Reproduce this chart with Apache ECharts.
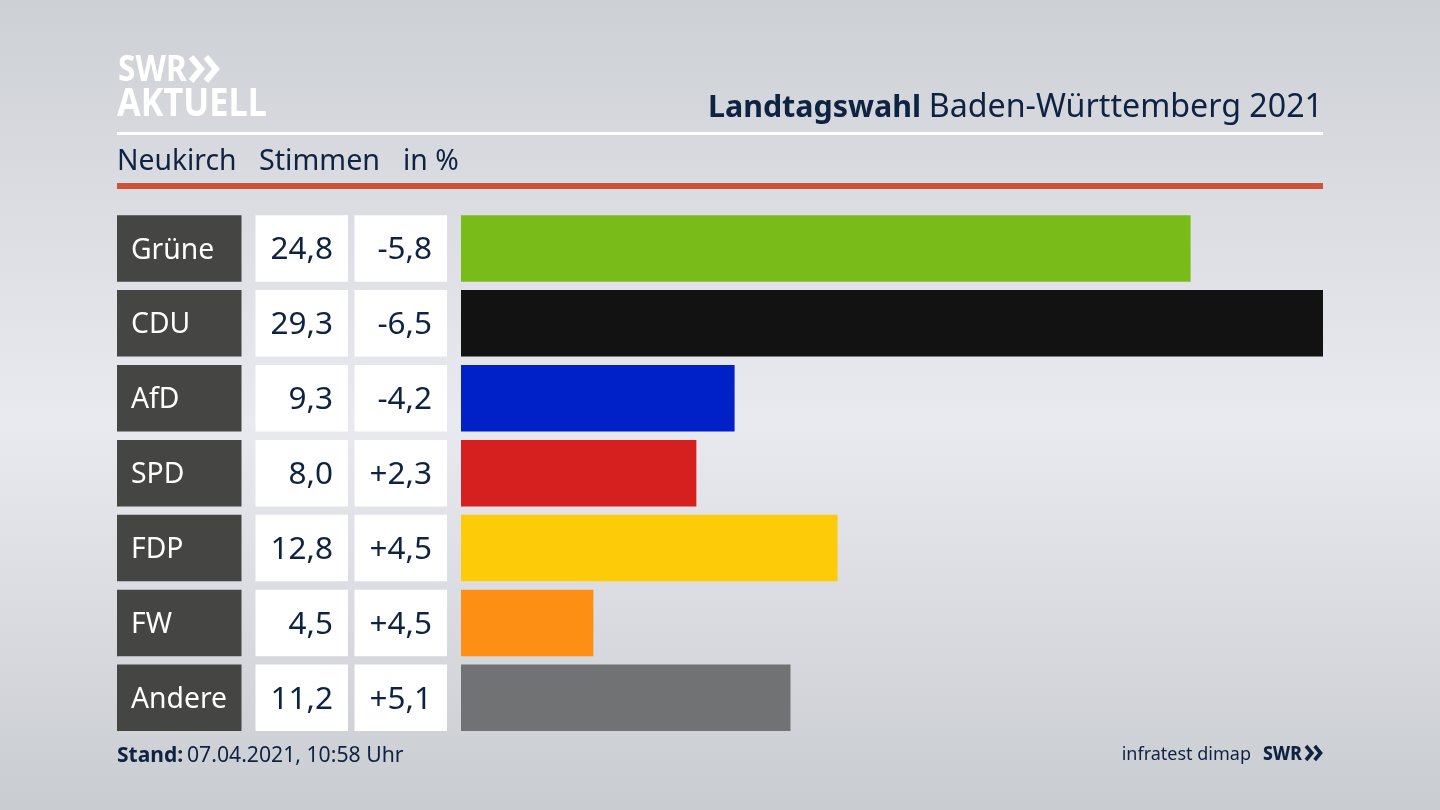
<!DOCTYPE html>
<html><head><meta charset="utf-8">
<style>html,body{margin:0;padding:0;background:#d8dade}#c{width:1440px;height:810px}</style>
<script src="https://cdn.jsdelivr.net/npm/echarts@6/dist/echarts.min.js"></script>
</head><body><div id="c"></div>
<script>
const parties = ['Grüne','CDU','AfD','SPD','FDP','FW','Andere'];
const shares = [24.8,29.3,9.3,8.0,12.8,4.5,11.2];
const changes = ['-5,8','-6,5','-4,2','+2,3','+4,5','+4,5','+5,1'];
const colors = ['#79bc1a','#121212','#0021c8','#d6201f','#fecb08','#fd9014','#717273'];

const FONT = '"Noto Sans"';
const INK = '#0e2342';
const gridTop = 211, gridH = 524.3, barW = 66.5;

const chart = echarts.init(document.getElementById('c'), null, {renderer:'canvas', width:1440, height:810});
const grids = [
  {left:117, width:124.5},
  {left:255.5, width:92.5},
  {left:354.5, width:92.5},
  {left:461, width:862}
].map(g => ({...g, top:gridTop, height:gridH, containLabel:false}));

const xAxes = grids.map((g,i) => ({gridIndex:i, type:'value', min:0, max:i===3?29.3:1, show:false}));
const yAxes = grids.map((g,i) => ({gridIndex:i, type:'category', inverse:true, data:parties, show:false}));

const commaFmt = v => v.toFixed(1).replace('.',',');
function cell(i, bg, fmt, pos, color, pad){
  return {type:'bar', xAxisIndex:i, yAxisIndex:i, barWidth:barW, silent:true, animation:false,
    data:parties.map(()=>1), itemStyle:{color:bg},
    label:{show:true, position:pos, distance:0, padding:pad, offset:[0,2], formatter:p=>fmt(p.dataIndex), color,
      fontFamily:FONT, fontSize:pos==='insideLeft'?28.3:31.5}};
}
const series = [
  cell(0,'#454543',d=>parties[d],'insideLeft','#ffffff',[0,0,0,14]),
  cell(1,'#ffffff',d=>commaFmt(shares[d]),'insideRight',INK,[0,15,0,0]),
  cell(2,'#ffffff',d=>changes[d],'insideRight',INK,[0,15,0,0]),
  {type:'bar', xAxisIndex:3, yAxisIndex:3, barWidth:barW, silent:true, animation:false,
   data:shares.map((v,i)=>({value:v, itemStyle:{color:colors[i]}}))}
];

const chev = (x,y,s,w,c)=>[0,1].map(k=>({type:'polyline', silent:true,
  shape:{points:[[x+k*s*0.62,y],[x+k*s*0.62+s*0.42,y+s*0.5],[x+k*s*0.62,y+s]]},
  style:{stroke:c, lineWidth:w, fill:null}}));
const txt = (x,y,text,size,weight,fill,align,sx)=>({type:'text', silent:true, x, y, scaleX:sx||1,
  style:{text, font:`${weight} ${size}px ${FONT}`, fill, align:align||'left', verticalAlign:'middle'}});

const graphic = [
  {type:'rect', silent:true, shape:{x:117,y:132,width:1206,height:3}, style:{fill:'#ffffff'}},
  {type:'rect', silent:true, shape:{x:117,y:183,width:1206,height:6}, style:{fill:'#cd5238'}},
  txt(118,71,'SWR',36,700,'#ffffff','left',0.88),
  ...chev(191,57,24,6,'#ffffff'),
  txt(117,105,'AKTUELL',39,700,'#ffffff','left',0.88),
  txt(117,162,'Neukirch',28.3,400,INK),
  txt(259,162,'Stimmen',28.7,400,INK),
  txt(403,162,'in %',28.3,400,INK),
  txt(921,108,'Landtagswahl',30.4,700,INK,'right'),
  txt(1323,108,'Baden-Württemberg 2021',32.2,400,INK,'right'),
  txt(117,756,'Stand:',21,700,INK),
  txt(187,756,'07.04.2021, 10:58 Uhr',21.2,400,INK),
  txt(1251,755,'infratest dimap',18,400,INK,'right'),
  txt(1263,755,'SWR',19,800,INK,'left',0.92),
  ...chev(1306,746,14,3.6,INK)
];

chart.setOption({
  animation:false,
  backgroundColor:{type:'linear',x:0,y:0,x2:0,y2:1,colorStops:[
    {offset:0,color:'#cdd0d5'},{offset:0.52,color:'#e9eaef'},{offset:1,color:'#c9ccd1'}]},
  grid:grids, xAxis:xAxes, yAxis:yAxes, series, graphic
});
</script></body></html>
